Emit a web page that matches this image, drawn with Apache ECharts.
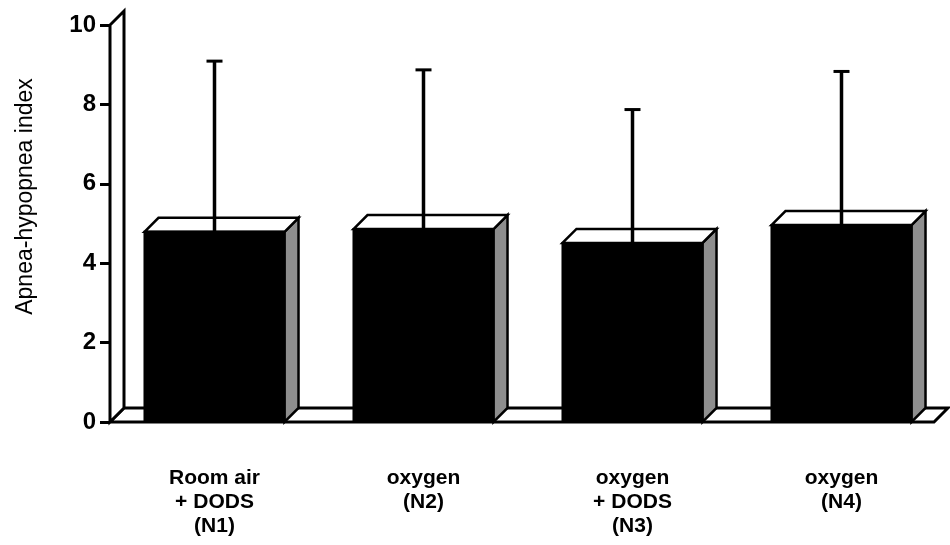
<!DOCTYPE html>
<html>
<head>
<meta charset="utf-8">
<script src="https://cdn.jsdelivr.net/npm/echarts@6/dist/echarts.min.js"></script>
<style>html,body{margin:0;padding:0;background:#fff}#c{width:950px;height:545px}</style>
</head>
<body>
<div id="c"></div>
<script>
// ---- data ----
const categories = ['Room air\n+ DODS\n(N1)', 'oxygen\n(N2)', 'oxygen\n+ DODS\n(N3)', 'oxygen\n(N4)'];
const means = [4.79, 4.86, 4.51, 4.96];
const upperErrors = [9.09, 8.87, 7.87, 8.83];
const yTicks = [0, 2, 4, 6, 8, 10];

const DEPTH = 14;
const chart = echarts.init(document.getElementById('c'), null, {renderer: 'canvas'});

const font = 'Liberation Sans, Arial, Helvetica, sans-serif';

function renderFrame(params, api) {
  const p0 = api.coord([0, 0]);
  const pTop = api.coord([0, yTicks[yTicks.length - 1]]);
  const x0 = params.coordSys.x;
  const xEnd = params.coordSys.x + params.coordSys.width;
  const yb = p0[1];
  const yt = pTop[1];
  const d = DEPTH;
  return {
    type: 'group',
    children: [
      {
        type: 'polygon',
        shape: {points: [[x0, yb], [x0 + d, yb - d], [xEnd + 2, yb - d], [xEnd - 12, yb]]},
        style: {fill: '#fff', stroke: '#000', lineWidth: 3, lineJoin: 'miter'}
      },
      {
        type: 'polygon',
        shape: {points: [[x0, yb], [x0, yt], [x0 + d, yt - d], [x0 + d, yb - d]]},
        style: {fill: '#fff', stroke: '#000', lineWidth: 3, lineJoin: 'miter'}
      }
    ]
  };
}

function renderBar(params, api) {
  const cat = api.value(0);
  const val = api.value(1);
  const top = api.coord([cat, val]);
  const base = api.coord([cat, 0]);
  const w = api.size([1, 0])[0] * 0.67;
  const l = top[0] - w / 2, r = top[0] + w / 2;
  const yt = top[1], yb = base[1];
  const d = DEPTH;
  return {
    type: 'group',
    children: [
      {
        type: 'polygon',
        shape: {points: [[r, yt], [r + d, yt - d], [r + d, yb - d], [r, yb]]},
        style: {fill: '#8e8e8e', stroke: '#000', lineWidth: 2.5}
      },
      {
        type: 'polygon',
        shape: {points: [[l, yt], [l + d, yt - d], [r + d, yt - d], [r, yt]]},
        style: {fill: '#fff', stroke: '#000', lineWidth: 2.5}
      },
      {
        type: 'rect',
        shape: {x: l, y: yt, width: w, height: yb - yt},
        style: {fill: '#000', stroke: '#000', lineWidth: 2}
      }
    ]
  };
}

function renderErr(params, api) {
  const cat = api.value(0);
  const lo = api.coord([cat, api.value(1)]);
  const hi = api.coord([cat, api.value(2)]);
  return {
    type: 'group',
    children: [
      {type: 'line', shape: {x1: lo[0], y1: lo[1], x2: hi[0], y2: hi[1]}, style: {stroke: '#000', lineWidth: 3.5}},
      {type: 'line', shape: {x1: hi[0] - 8, y1: hi[1], x2: hi[0] + 8, y2: hi[1]}, style: {stroke: '#000', lineWidth: 3}}
    ]
  };
}

const option = {
  backgroundColor: '#fff',
  animation: false,
  grid: {left: 110, right: 4, top: 25, bottom: 123, containLabel: false},
  xAxis: {
    type: 'category',
    data: categories,
    axisLine: {show: false},
    axisTick: {show: false},
    axisLabel: {
      margin: 44,
      color: '#000',
      fontFamily: font,
      fontWeight: 'bold',
      fontSize: 21,
      lineHeight: 24,
      align: 'center',
      verticalAlign: 'top'
    },
    splitLine: {show: false}
  },
  yAxis: {
    type: 'value',
    min: 0,
    max: 10,
    interval: 2,
    name: 'Apnea-hypopnea index',
    nameLocation: 'middle',
    nameGap: 73,
    nameTextStyle: {color: '#000', fontFamily: font, fontSize: 23, padding: [0, 0, 0, 54]},
    axisLine: {show: false},
    axisTick: {show: true, inside: false, length: 10, lineStyle: {color: '#000', width: 3}},
    axisLabel: {margin: 14, color: '#000', fontFamily: font, fontWeight: 'bold', fontSize: 24},
    splitLine: {show: false}
  },
  series: [
    {
      type: 'custom',
      renderItem: renderFrame,
      data: [[0, 0]],
      z: 1,
      silent: true
    },
    {
      type: 'custom',
      renderItem: renderBar,
      data: means.map((v, i) => [i, v]),
      z: 2
    },
    {
      type: 'custom',
      renderItem: renderErr,
      data: means.map((v, i) => [i, v, upperErrors[i]]),
      z: 3
    }
  ]
};
chart.setOption(option);
</script>
</body>
</html>
